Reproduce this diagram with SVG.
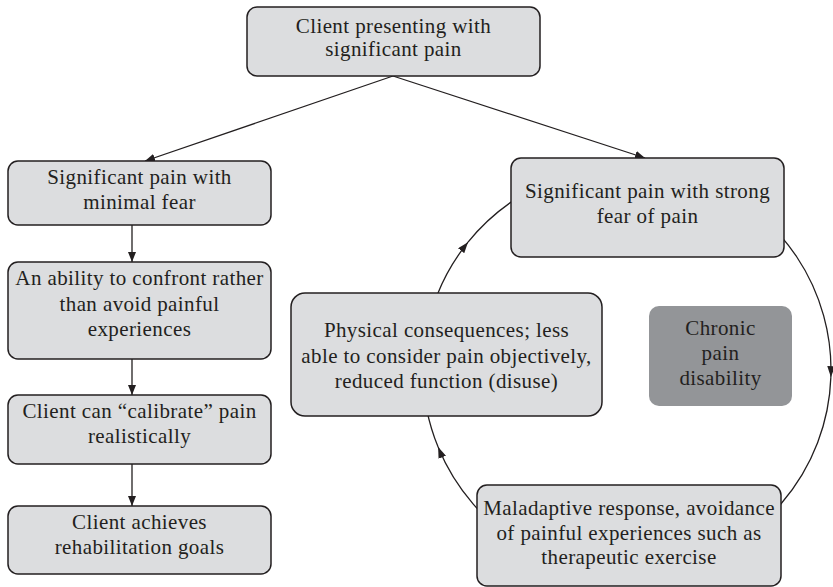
<svg xmlns="http://www.w3.org/2000/svg" width="833" height="587" viewBox="0 0 833 587">
  <style>
    .box { fill: #dcdddf; stroke: #231f20; stroke-width: 1.5; }
    .dark { fill: #939598; stroke: none; }
    .lbl { font-family: "Liberation Serif", "Times New Roman", serif; font-size: 21px; letter-spacing: 0.4px; fill: #231f20; text-anchor: middle; }
    .line { fill: none; stroke: #231f20; stroke-width: 1.3; }
  </style>
  <defs>
    <marker id="arrow" markerUnits="userSpaceOnUse" markerWidth="10" markerHeight="8" refX="10" refY="4" orient="auto">
      <path d="M0,0 L10,4 L0,8 z" fill="#231f20"/>
    </marker>
    <marker id="arcArrow" markerUnits="userSpaceOnUse" markerWidth="11" markerHeight="8" refX="11" refY="4" orient="auto">
      <path d="M0,0 L11,4 L0,8 z" fill="#231f20"/>
    </marker>
  </defs>
  <rect width="833" height="587" fill="#ffffff"/>

  <g id="connectors">
    <line class="line" x1="393" y1="76" x2="145" y2="161" marker-end="url(#arrow)"/>
    <line class="line" x1="393" y1="76" x2="645" y2="158" marker-end="url(#arrow)"/>
    <line class="line" x1="132" y1="225" x2="132" y2="262" marker-end="url(#arrow)"/>
    <line class="line" x1="132" y1="359" x2="132" y2="395" marker-end="url(#arrow)"/>
    <line class="line" x1="132" y1="464" x2="132" y2="506" marker-end="url(#arrow)"/>
    <!-- fear-avoidance cycle: three arcs of one circle, each ending in an arrowhead -->
    <path class="line" d="M468.01,242.17 A204,204 0 0 1 830.88,377.12" marker-end="url(#arcArrow)"/>
    <path class="line" d="M830.88,377.12 A204,204 0 0 1 438.12,447.08" marker-end="url(#arcArrow)"/>
    <path class="line" d="M438.12,447.08 A204,204 0 0 1 468.01,242.17" marker-end="url(#arcArrow)"/>
  </g>

  <g id="start">
    <rect class="box" x="247" y="7" width="293" height="69" rx="10"/>
    <text class="lbl" x="393.5" y="33">Client presenting with</text>
    <text class="lbl" x="393.5" y="56">significant pain</text>
  </g>

  <g id="minimal-fear">
    <rect class="box" x="8" y="161" width="263" height="64" rx="10"/>
    <text class="lbl" x="139.5" y="184">Significant pain with</text>
    <text class="lbl" x="139.5" y="209">minimal fear</text>
  </g>

  <g id="confront">
    <rect class="box" x="8" y="262" width="263" height="97" rx="10"/>
    <text class="lbl" x="139.5" y="285">An ability to confront rather</text>
    <text class="lbl" x="139.5" y="311">than avoid painful</text>
    <text class="lbl" x="139.5" y="336">experiences</text>
  </g>

  <g id="calibrate">
    <rect class="box" x="8" y="395" width="263" height="69" rx="10"/>
    <text class="lbl" x="139.5" y="418">Client can “calibrate” pain</text>
    <text class="lbl" x="139.5" y="443">realistically</text>
  </g>

  <g id="goals">
    <rect class="box" x="8" y="506" width="263" height="68" rx="10"/>
    <text class="lbl" x="139.5" y="529">Client achieves</text>
    <text class="lbl" x="139.5" y="554">rehabilitation goals</text>
  </g>

  <g id="strong-fear">
    <rect class="box" x="511" y="158" width="273" height="99" rx="10"/>
    <text class="lbl" x="647.5" y="198">Significant pain with strong</text>
    <text class="lbl" x="647.5" y="223">fear of pain</text>
  </g>

  <g id="physical">
    <rect class="box" x="291" y="293" width="311" height="123" rx="14"/>
    <text class="lbl" x="446.5" y="337">Physical consequences; less</text>
    <text class="lbl" x="446.5" y="362.5">able to consider pain objectively,</text>
    <text class="lbl" x="446.5" y="388">reduced function (disuse)</text>
  </g>

  <g id="chronic">
    <rect class="dark" x="649" y="306" width="143" height="100" rx="10"/>
    <text class="lbl" x="720.5" y="335">Chronic</text>
    <text class="lbl" x="720.5" y="360">pain</text>
    <text class="lbl" x="720.5" y="385">disability</text>
  </g>

  <g id="maladaptive">
    <rect class="box" x="477" y="485" width="304" height="101" rx="10"/>
    <text class="lbl" x="629" y="515">Maladaptive response, avoidance</text>
    <text class="lbl" x="629" y="540">of painful experiences such as</text>
    <text class="lbl" x="629" y="564">therapeutic exercise</text>
  </g>
</svg>
